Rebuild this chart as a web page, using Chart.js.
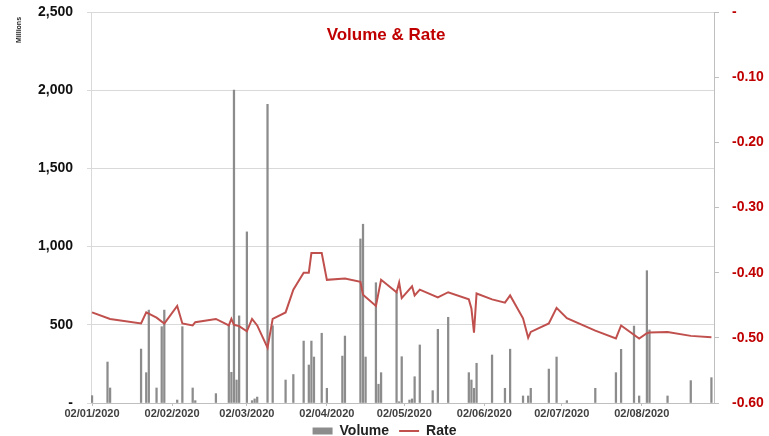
<!DOCTYPE html>
<html>
<head>
<meta charset="utf-8">
<script src="https://cdn.jsdelivr.net/npm/chart.js@4.4.1/dist/chart.umd.min.js"></script>
<style>
    html, body { margin: 0; padding: 0; background: #fff; }
    #wrap { width: 769px; height: 436px; }
</style>
</head>
<body>
<div id="wrap"><canvas id="chart" width="769" height="436"></canvas></div>
<script>
// Volume (millions) per trade date
const volumeDates = [
    '2020-01-02', '2020-01-08', '2020-01-09', '2020-01-21', '2020-01-23', '2020-01-24', '2020-01-27', '2020-01-29',
    '2020-01-30', '2020-02-04', '2020-02-06', '2020-02-10', '2020-02-11', '2020-02-19', '2020-02-24', '2020-02-25',
    '2020-02-26', '2020-02-27', '2020-02-28', '2020-03-02', '2020-03-04', '2020-03-05', '2020-03-06', '2020-03-10',
    '2020-03-12', '2020-03-17', '2020-03-20', '2020-03-24', '2020-03-26', '2020-03-27', '2020-03-28', '2020-03-31',
    '2020-04-02', '2020-04-08', '2020-04-09', '2020-04-15', '2020-04-16', '2020-04-17', '2020-04-21', '2020-04-22',
    '2020-04-23', '2020-04-29', '2020-04-30', '2020-05-01', '2020-05-04', '2020-05-05', '2020-05-06', '2020-05-08',
    '2020-05-13', '2020-05-15', '2020-05-19', '2020-05-27', '2020-05-28', '2020-05-29', '2020-05-30', '2020-06-05',
    '2020-06-10', '2020-06-12', '2020-06-17', '2020-06-19', '2020-06-20', '2020-06-27', '2020-06-30', '2020-07-04',
    '2020-07-15', '2020-07-23', '2020-07-25', '2020-07-30', '2020-08-01', '2020-08-04', '2020-08-05', '2020-08-12',
    '2020-08-21', '2020-08-29'
];
const volumeValues = [
    47, 262, 96, 345, 194, 594, 96, 488,
    594, 19, 488, 96, 15, 60, 497, 196,
    2000, 147, 557, 1094, 15, 26, 38, 1910,
    494, 147, 182, 396, 243, 396, 294, 446,
    94, 300, 428, 1049, 1143, 294, 769, 120,
    194, 708, 8, 296, 19, 26, 168, 371,
    79, 471, 548, 194, 147, 94, 254, 307,
    94, 344, 45, 45, 94, 217, 294, 15,
    94, 194, 343, 492, 45, 846, 467, 45,
    143, 162
];

// Rate
const rateDates = [
    '2020-01-02', '2020-01-09', '2020-01-21', '2020-01-23', '2020-01-27', '2020-01-30', '2020-02-04', '2020-02-06',
    '2020-02-10', '2020-02-11', '2020-02-19', '2020-02-24', '2020-02-25', '2020-02-26', '2020-02-28', '2020-03-02',
    '2020-03-04', '2020-03-06', '2020-03-10', '2020-03-12', '2020-03-17', '2020-03-20', '2020-03-24', '2020-03-26',
    '2020-03-27', '2020-03-31', '2020-04-02', '2020-04-09', '2020-04-15', '2020-04-16', '2020-04-21', '2020-04-23',
    '2020-04-29', '2020-04-30', '2020-05-01', '2020-05-05', '2020-05-06', '2020-05-08', '2020-05-15', '2020-05-19',
    '2020-05-27', '2020-05-28', '2020-05-29', '2020-05-30', '2020-06-05', '2020-06-10', '2020-06-12', '2020-06-17',
    '2020-06-19', '2020-06-20', '2020-06-27', '2020-06-30', '2020-07-04', '2020-07-15', '2020-07-23', '2020-07-25',
    '2020-08-01', '2020-08-04', '2020-08-05', '2020-08-12', '2020-08-21', '2020-08-29'
];
const rateValues = [
    -0.461, -0.471, -0.478, -0.461, -0.469, -0.478, -0.451, -0.478,
    -0.481, -0.476, -0.471, -0.481, -0.471, -0.480, -0.482, -0.490,
    -0.471, -0.481, -0.515, -0.471, -0.461, -0.426, -0.400, -0.400,
    -0.370, -0.370, -0.411, -0.409, -0.414, -0.434, -0.451, -0.411,
    -0.430, -0.415, -0.439, -0.421, -0.435, -0.426, -0.438, -0.430,
    -0.441, -0.455, -0.492, -0.432, -0.441, -0.446, -0.435, -0.470,
    -0.500, -0.491, -0.478, -0.454, -0.470, -0.489, -0.501, -0.481,
    -0.501, -0.493, -0.492, -0.491, -0.497, -0.499
];

// x axis
const tickDates = ['2020-01-02', '2020-02-02', '2020-03-02', '2020-04-02', '2020-05-02', '2020-06-02', '2020-07-02', '2020-08-02'];
const axisStart = '2020-01-02';
const axisEnd = '2020-08-30';

const volumeTicks = [0, 500, 1000, 1500, 2000, 2500];
const rateTicks = [-0.6, -0.5, -0.4, -0.3, -0.2, -0.1, 0];

const DAY = 86400000;
function toUtc(s) {
    const [y, m, d] = s.split('-').map(Number);
    return Date.UTC(y, m - 1, d);
}
function dayOf(s) {
    return (toUtc(s) - toUtc(axisStart)) / DAY;
}
function formatDay(v) {
    const d = new Date(toUtc(axisStart) + Math.round(v) * DAY);
    const dd = String(d.getUTCDate()).padStart(2, '0');
    const mm = String(d.getUTCMonth() + 1).padStart(2, '0');
    return `${dd}/${mm}/${d.getUTCFullYear()}`;
}

const FONT = "'Liberation Sans', Arial, sans-serif";

// fixed side widths, no extra label padding above/below the plot
function fixSide(width) {
    return (scale) => {
        scale.width = width;
        scale.paddingTop = 0;
        scale.paddingBottom = 0;
    };
}

const overlayText = {
    id: 'overlayText',
    afterLayout(chart) {
        // legend label padding also pads the top, pull it back up
        chart.legend.top -= 8;
        chart.legend.bottom = chart.height;
    },
    afterDraw(chart) {
        const ctx = chart.ctx;
        ctx.save();
        ctx.fillStyle = '#c00000';
        ctx.font = `bold 17px ${FONT}`;
        ctx.textAlign = 'center';
        ctx.textBaseline = 'middle';
        ctx.fillText('Volume & Rate', 386, 35);

        ctx.translate(19, 30);
        ctx.rotate(-Math.PI / 2);
        ctx.fillStyle = '#222';
        ctx.font = `bold 7px ${FONT}`;
        ctx.fillText('Millions', 0, 0);
        ctx.restore();
    }
};

const volumeData = volumeDates.map((d, i) => ({ x: dayOf(d), y: volumeValues[i] }));
const rateData = rateDates.map((d, i) => ({ x: dayOf(d), y: rateValues[i] }));

new Chart(document.getElementById('chart'), {
    data: {
        datasets: [
            {
                type: 'bar',
                label: 'Volume',
                data: volumeData,
                yAxisID: 'y',
                backgroundColor: '#8c8c8c',
                barThickness: 1.6,
                order: 2
            },
            {
                type: 'line',
                label: 'Rate',
                data: rateData,
                yAxisID: 'y1',
                borderColor: '#c0504d',
                backgroundColor: '#c0504d',
                borderWidth: 2,
                pointRadius: 0,
                tension: 0,
                order: 1
            }
        ]
    },
    options: {
        responsive: false,
        animation: false,
        layout: { padding: { top: 12, left: 0, right: 0, bottom: 0 } },
        plugins: {
            title: { display: false },
            tooltip: { enabled: false },
            legend: {
                position: 'bottom',
                maxHeight: 14,
                labels: {
                    usePointStyle: true,
                    pointStyleWidth: 20,
                    boxHeight: 7,
                    padding: 10,
                    color: '#222',
                    font: { family: FONT, size: 14, weight: 'bold' },
                    sort: (a, b) => a.datasetIndex - b.datasetIndex,
                    generateLabels: (chart) => chart.data.datasets.map((ds, i) => ({
                        text: ds.label,
                        datasetIndex: i,
                        fillStyle: ds.type === 'bar' ? '#8c8c8c' : '#c0504d',
                        strokeStyle: ds.type === 'bar' ? '#8c8c8c' : '#c0504d',
                        lineWidth: ds.type === 'bar' ? 0 : 2,
                        pointStyle: ds.type === 'bar' ? 'rect' : 'line',
                        fontColor: '#222',
                        hidden: false
                    }))
                }
            }
        },
        scales: {
            x: {
                type: 'linear',
                offset: false,
                min: dayOf(axisStart) - 0.4,
                max: dayOf(axisEnd),
                afterBuildTicks: (scale) => {
                    scale.ticks = tickDates.map(d => ({ value: dayOf(d) }));
                },
                afterFit: (scale) => { scale.height = 19; },
                grid: { offset: false, drawOnChartArea: false, drawTicks: true, tickLength: 3, color: '#bfbfbf' },
                border: { display: true, color: '#bfbfbf' },
                ticks: {
                    autoSkip: false,
                    maxRotation: 0,
                    padding: 1,
                    color: '#404040',
                    font: { family: FONT, size: 11, weight: 'bold' },
                    callback: (v) => formatDay(v)
                }
            },
            y: {
                position: 'left',
                min: 0,
                max: 2500,
                afterBuildTicks: (scale) => {
                    scale.ticks = volumeTicks.map(v => ({ value: v }));
                },
                afterFit: fixSide(91),
                grid: { color: '#d9d9d9', tickLength: 4 },
                border: { display: true, color: '#d9d9d9' },
                ticks: {
                    padding: 14,
                    color: '#111',
                    font: { family: FONT, size: 14, weight: 'bold' },
                    callback: (v) => v === 0 ? '-' : v.toLocaleString('en-US')
                }
            },
            y1: {
                position: 'right',
                min: -0.6,
                max: 0,
                afterBuildTicks: (scale) => {
                    scale.ticks = rateTicks.map(v => ({ value: v }));
                },
                afterFit: fixSide(55),
                grid: { drawOnChartArea: false, tickLength: 5, color: '#bfbfbf' },
                border: { display: true, color: '#bfbfbf' },
                ticks: {
                    padding: 13,
                    color: '#c00000',
                    font: { family: FONT, size: 14, weight: 'bold' },
                    callback: (v) => Math.abs(v) < 1e-9 ? '-' : v.toFixed(2)
                }
            }
        }
    },
    plugins: [overlayText]
});
</script>
</body>
</html>
